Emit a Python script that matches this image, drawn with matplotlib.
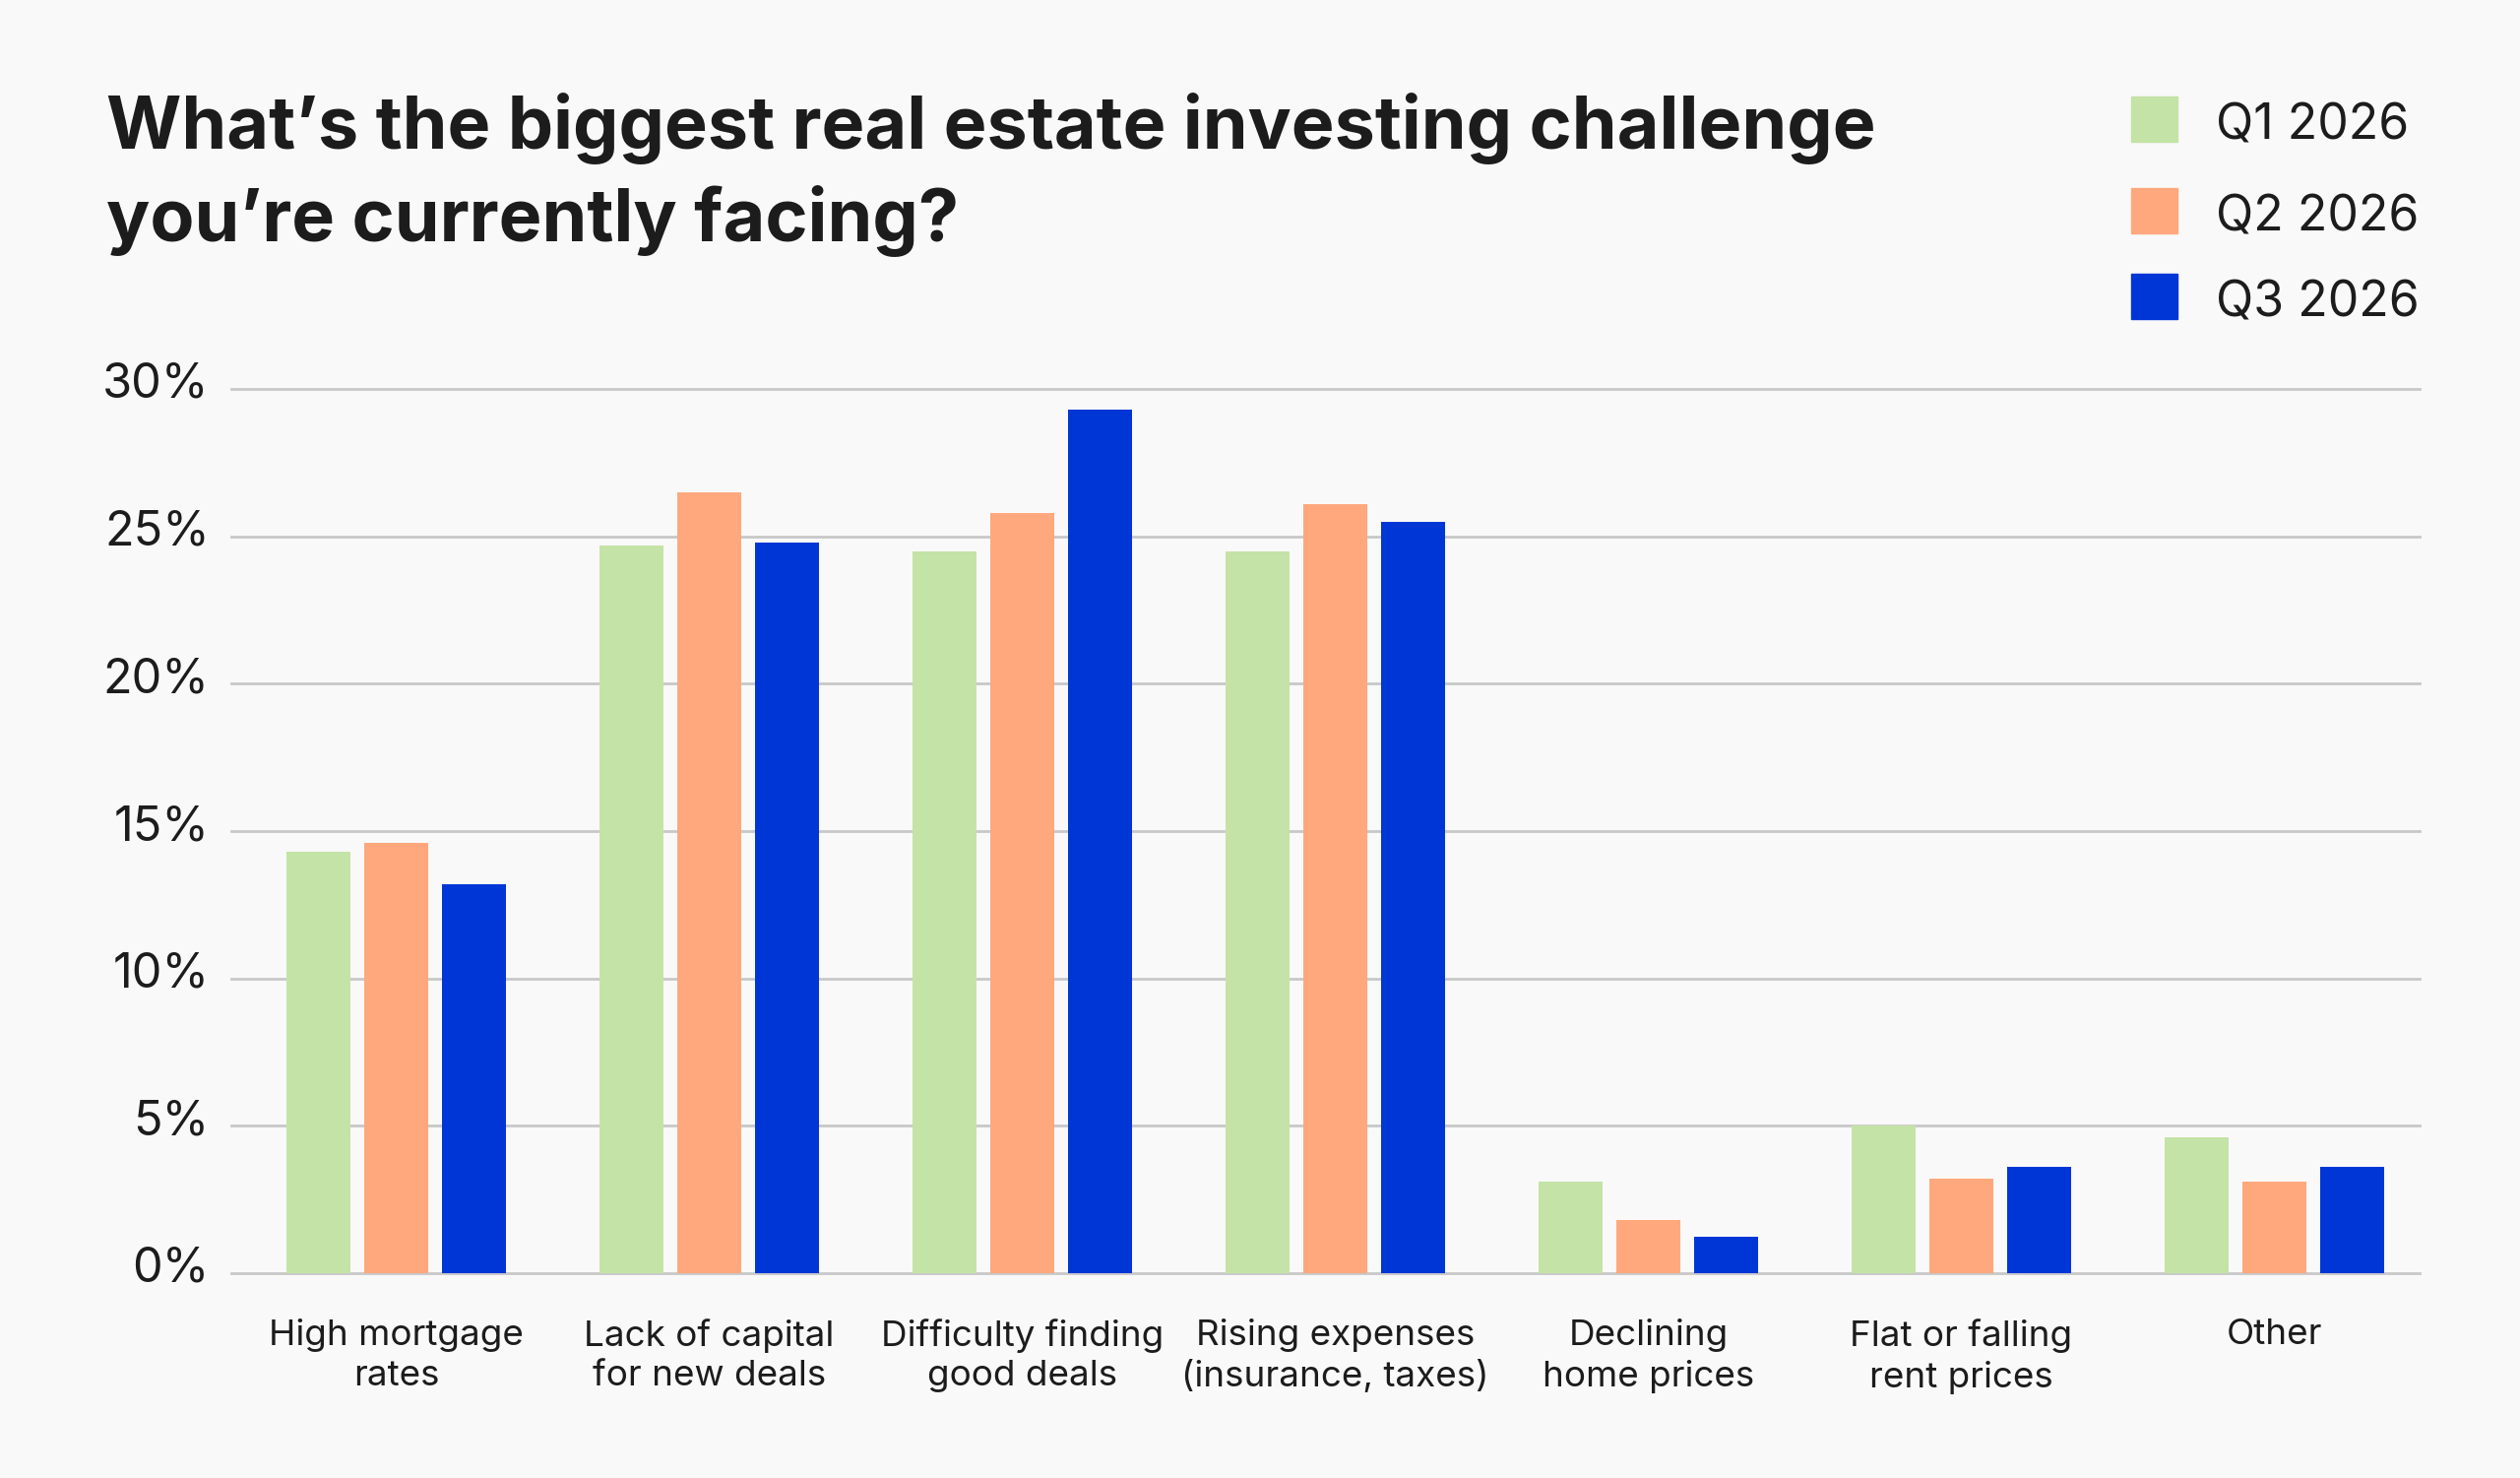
import numpy as np
import matplotlib
matplotlib.use("Agg")
import matplotlib.pyplot as plt
from matplotlib.patches import Rectangle
from matplotlib.transforms import ScaledTranslation

categories = ["High mortgage\nrates", "Lack of capital\nfor new deals", "Difficulty finding\ngood deals",
              "Rising expenses\n(insurance, taxes)", "Declining\nhome prices", "Flat or falling\nrent prices", "Other"]
series = ["Q1 2026", "Q2 2026", "Q3 2026"]
q1 = [14.3, 24.7, 24.5, 24.5, 3.1, 5.0, 4.6]
q2 = [14.6, 26.5, 25.8, 26.1, 1.8, 3.2, 3.1]
q3 = [13.2, 24.8, 29.3, 25.5, 1.25, 3.6, 3.6]
yticks = [0, 5, 10, 15, 20, 25, 30]
colors = ["#C4E3A6", "#FFA87D", "#0036D6"]

bg = "#F9F9F9"
ink = "#1C1C1C"
plt.rcParams['font.family'] = ['Inter', 'DejaVu Sans']

fig = plt.figure(figsize=(25.6, 15.01), dpi=100, facecolor=bg)
ax = fig.add_axes([235/2560, 1 - 1293/1501, (2458-235)/2560, (1293-395)/1501], facecolor=bg)

x = np.arange(len(categories))
pitch = 0.248
width = 0.204
for i, (vals, c) in enumerate(zip([q1, q2, q3], colors)):
    ax.bar(x + (i - 1) * pitch, vals, width=width, color=c, zorder=3, label=series[i])

ax.set_xlim(-0.527, 6.464)
ax.set_ylim(0, 30)
ax.set_yticks(yticks)
ax.set_yticklabels([f"{v}%" for v in yticks], fontsize=35, color=ink)
ax.set_xticks(x)
ax.set_xticklabels(categories, fontsize=26.5, color=ink, linespacing=1.3)
ax.tick_params(axis='y', length=0, pad=16)
ax.tick_params(axis='x', length=0, pad=33)
# lift y labels a little above their gridlines
shift = ScaledTranslation(0, 9/100, fig.dpi_scale_trans)
for lab in ax.get_yticklabels():
    lab.set_transform(lab.get_transform() + shift)
ax.grid(axis='y', color="#C8C8C8", linewidth=2, zorder=0)
for g in ax.get_ygridlines():
    g.set_clip_on(False)
for s in ax.spines.values():
    s.set_visible(False)

# title
fig.text(108/2560, 1 - 245/1501, "What\u2019s the biggest real estate investing challenge\nyou\u2019re currently facing?",
         fontsize=53, fontweight='bold', color=ink, ha='left', va='baseline', linespacing=1.36)

# legend
for i, (name, c) in enumerate(zip(series, colors)):
    yc = [121, 214, 301][i]
    fig.patches.append(Rectangle((2165/2560, 1 - (yc + 23)/1501), 47/2560, 46/1501,
                                 transform=fig.transFigure, color=c))
    fig.text(2251/2560, 1 - (yc + 7)/1501, name, fontsize=36, color=ink, ha='left', va='center')

fig.savefig("out.png", dpi=100, facecolor=bg)
